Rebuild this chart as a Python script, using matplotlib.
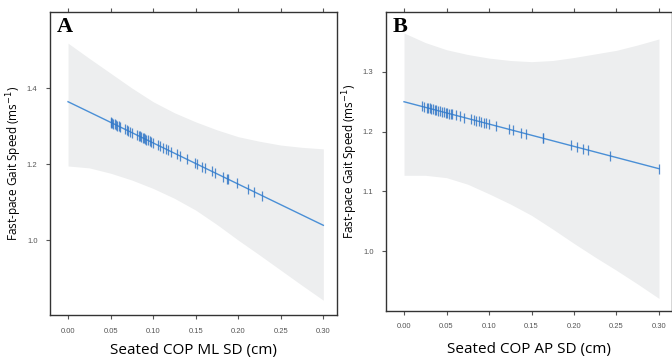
import numpy as np
import matplotlib
matplotlib.use('Agg')
import matplotlib.pyplot as plt

# --- data ---
band_x = [0.0, 0.025, 0.05, 0.075, 0.1, 0.125, 0.15, 0.175, 0.2, 0.225, 0.25, 0.275, 0.3]

a_upper = [1.518, 1.478, 1.439, 1.400, 1.364, 1.335, 1.311, 1.290, 1.272, 1.260, 1.250, 1.244, 1.240]
a_lower = [1.195, 1.190, 1.176, 1.158, 1.136, 1.110, 1.079, 1.041, 1.000, 0.961, 0.921, 0.881, 0.842]
a_fit_x = [0.0, 0.3]
a_fit_y = [1.364, 1.039]
a_obs = [0.050, 0.051, 0.052, 0.053, 0.055, 0.056, 0.058, 0.060, 0.061,
         0.067, 0.069, 0.071, 0.073, 0.075,
         0.081, 0.083, 0.084, 0.086, 0.088, 0.089, 0.091, 0.092, 0.094, 0.096, 0.098, 0.100,
         0.106, 0.108, 0.112, 0.115, 0.118, 0.121, 0.128, 0.131,
         0.140, 0.149, 0.152, 0.158, 0.161, 0.169, 0.173, 0.182, 0.187, 0.188,
         0.198, 0.212, 0.218, 0.228]

b_upper = [1.365, 1.349, 1.337, 1.329, 1.323, 1.319, 1.317, 1.319, 1.324, 1.330, 1.336, 1.345, 1.355]
b_lower = [1.127, 1.127, 1.123, 1.112, 1.096, 1.079, 1.060, 1.037, 1.013, 0.990, 0.968, 0.945, 0.921]
b_fit_x = [0.0, 0.3]
b_fit_y = [1.250, 1.138]
b_obs = [0.021, 0.024, 0.027, 0.028, 0.030, 0.032, 0.034, 0.036, 0.038, 0.040, 0.042,
         0.045, 0.047, 0.049, 0.051, 0.053, 0.055, 0.057, 0.061, 0.066, 0.071,
         0.079, 0.082, 0.085, 0.088, 0.091, 0.094, 0.097, 0.100, 0.108,
         0.124, 0.128, 0.138, 0.143, 0.163, 0.164, 0.196, 0.204, 0.210, 0.216,
         0.242, 0.300]

xticks = [0.0, 0.05, 0.10, 0.15, 0.20, 0.25, 0.30]
a_yticks = [1.0, 1.2, 1.4]
b_yticks = [1.0, 1.1, 1.2, 1.3]

band_color = '#edeeef'
line_color = '#4a8fd6'
mark_color = '#3579c8'
spine_color = '#333333'


def draw_panel(ax, upper, lower, fit_x, fit_y, obs, yticks, xlabel, letter, xlim, ylim, xpad):
    ax.fill_between(band_x, lower, upper, color=band_color, lw=0)
    ax.plot(fit_x, fit_y, color=line_color, lw=1.0)
    ax.plot(obs, np.interp(obs, fit_x, fit_y), ls='none', marker='|',
            markersize=7, mew=0.9, color=mark_color, alpha=0.85)
    ax.set_xlim(*xlim)
    ax.set_ylim(*ylim)
    ax.set_xticks(xticks)
    ax.set_xticklabels(['%.2f' % v for v in xticks], family='Liberation Sans')
    ax.set_yticks(yticks)
    ax.set_yticklabels(['%.1f' % v for v in yticks], family='Liberation Sans')
    for s in ax.spines.values():
        s.set_color(spine_color)
        s.set_linewidth(1.0)
    ax.tick_params(axis='both', direction='out', length=3, width=0.8, color='#555555',
                   labelsize=5.5, labelcolor='#555555', pad=6)
    ax.tick_params(axis='x', top=True, labeltop=False)
    ax.set_xlabel(xlabel, fontsize=11, family='Open Sans', labelpad=xpad)
    ax.set_ylabel('Fast-pace Gait Speed (ms$^{-1}$)', fontsize=8.5, family='Open Sans',
                  labelpad=2)
    ax.text(0.022, 0.985, letter, transform=ax.transAxes, ha='left', va='top',
            fontsize=16, fontweight='bold', family='Liberation Serif')


fig = plt.figure(figsize=(6.72, 3.58), dpi=100)
ax1 = fig.add_axes([0.0744, 0.120, 0.427, 0.8465])
ax2 = fig.add_axes([0.5744, 0.1313, 0.4256, 0.835])

draw_panel(ax1, a_upper, a_lower, a_fit_x, a_fit_y, a_obs, a_yticks,
           'Seated COP ML SD (cm)', 'A', (-0.0212, 0.316), (0.803, 1.60), 6)
draw_panel(ax2, b_upper, b_lower, b_fit_x, b_fit_y, b_obs, b_yticks,
           'Seated COP AP SD (cm)', 'B', (-0.0212, 0.3153), (0.90, 1.40), 8)

fig.savefig('out.png', dpi=100)
